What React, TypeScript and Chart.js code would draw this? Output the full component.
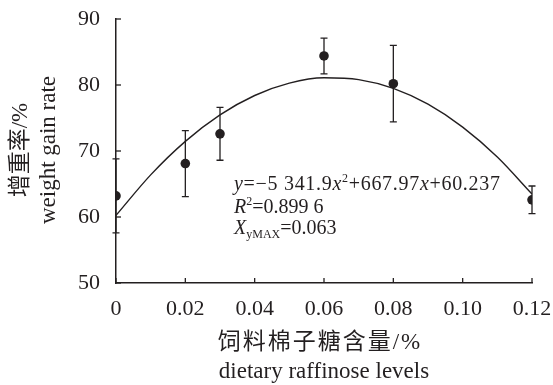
import React, { useEffect, useRef } from 'react';
import { Chart, registerables } from 'chart.js';

Chart.register(...registerables);

// Measured treatment data (mean ± error)
const xLevels = [0, 0.02, 0.03, 0.06, 0.08, 0.12];
const gainMeans = [63.2, 68.1, 72.6, 84.4, 80.2, 62.6];
const gainErrors = [5.6, 5.0, 4.0, 2.7, 5.8, 2.1];

// Fitted trend curve
const trendX = [0, 0.01, 0.02, 0.03, 0.04, 0.05, 0.06, 0.07, 0.08, 0.09, 0.1, 0.11, 0.12];
const trendY = [60.24, 66.38, 71.46, 75.47, 78.41, 80.28, 81.09, 80.82, 79.49, 77.09, 73.62, 69.08, 63.47];

const xTickLabels = ['0', '0.02', '0.04', '0.06', '0.08', '0.10', '0.12'];
const yTickValues = [50, 60, 70, 80, 90];

const xTitleLines = ['饲料棉子糖含量/%', 'dietary raffinose levels'];
const yTitleLines = ['增重率/%', 'weight gain rate'];

type Run = { t: string; it?: boolean; sup?: boolean; sub?: boolean };
const equationLines: Run[][] = [
  [
    { t: 'y', it: true },
    { t: '=−5 341.9' },
    { t: 'x', it: true },
    { t: '2', sup: true },
    { t: '+667.97' },
    { t: 'x', it: true },
    { t: '+60.237' },
  ],
  [{ t: 'R', it: true }, { t: '2', sup: true }, { t: '=0.899 6' }],
  [{ t: 'X', it: true }, { t: 'yMAX', sub: true }, { t: '=0.063' }],
];

const INK = '#231f20';
const SERIF = "'Liberation Serif', 'Times New Roman', serif";
const TITLE_FONT = "'Liberation Serif', 'Noto Sans CJK SC', serif";

const decorPlugin = {
  id: 'decor',
  beforeDatasetsDraw(chart: any) {
    const ctx = chart.ctx;
    const xs = chart.scales.x;
    const ys = chart.scales.y;
    ctx.save();
    ctx.strokeStyle = INK;
    ctx.lineWidth = 1.3;
    xLevels.forEach((xv, i) => {
      const px = xs.getPixelForValue(xv);
      const top = ys.getPixelForValue(gainMeans[i] + gainErrors[i]);
      const bot = ys.getPixelForValue(gainMeans[i] - gainErrors[i]);
      ctx.beginPath();
      ctx.moveTo(px, top);
      ctx.lineTo(px, bot);
      ctx.moveTo(px - 3.5, top);
      ctx.lineTo(px + 3.5, top);
      ctx.moveTo(px - 3.5, bot);
      ctx.lineTo(px + 3.5, bot);
      ctx.stroke();
    });
    ctx.restore();
  },
  afterDraw(chart: any) {
    const ctx = chart.ctx;
    const xs = chart.scales.x;
    const ys = chart.scales.y;
    const area = chart.chartArea;
    ctx.save();
    // inward ticks
    ctx.strokeStyle = INK;
    ctx.lineWidth = 1.3;
    ys.ticks.forEach((t: any) => {
      const py = ys.getPixelForValue(t.value);
      ctx.beginPath();
      ctx.moveTo(area.left, py);
      ctx.lineTo(area.left + 5, py);
      ctx.stroke();
    });
    xs.ticks.forEach((t: any) => {
      const px = xs.getPixelForValue(t.value);
      ctx.beginPath();
      ctx.moveTo(px, area.bottom);
      ctx.lineTo(px, area.bottom - 5);
      ctx.stroke();
    });

    ctx.fillStyle = INK;
    // x title
    ctx.textAlign = 'center';
    ctx.textBaseline = 'middle';
    ctx.font = `23px ${TITLE_FONT}`;
    (ctx as any).letterSpacing = '2px';
    ctx.fillText(xTitleLines[0], 320, 343);
    (ctx as any).letterSpacing = '0px';
    ctx.textBaseline = 'alphabetic';
    ctx.fillText(xTitleLines[1], 324, 378);

    // y title
    ctx.save();
    ctx.translate(21, 150);
    ctx.rotate(-Math.PI / 2);
    ctx.textBaseline = 'middle';
    ctx.fillText(yTitleLines[0], 0, 0);
    ctx.restore();
    ctx.save();
    ctx.translate(49, 150);
    ctx.rotate(-Math.PI / 2);
    ctx.textBaseline = 'middle';
    ctx.fillText(yTitleLines[1], 0, 0);
    ctx.restore();

    // equation block
    ctx.textAlign = 'left';
    ctx.textBaseline = 'alphabetic';
    const baselines = [190, 213, 234];
    const spacing = ['0.7px', '0px', '0px'];
    equationLines.forEach((runs, li) => {
      let x = 234;
      const base = baselines[li];
      (ctx as any).letterSpacing = spacing[li];
      runs.forEach((r) => {
        const size = r.sup || r.sub ? 12 : 20;
        ctx.font = `${r.it ? 'italic ' : ''}${size}px ${SERIF}`;
        const y = r.sup ? base - 8 : r.sub ? base + 4 : base;
        ctx.fillText(r.t, x, y);
        x += ctx.measureText(r.t).width;
      });
    });
    (ctx as any).letterSpacing = '0px';
    ctx.restore();
  },
};

export default function App() {
  const ref = useRef<HTMLCanvasElement | null>(null);
  useEffect(() => {
    document.body.style.margin = '0';
    const canvas = ref.current;
    if (!canvas) return;
    const chart = new Chart(canvas, {
      type: 'scatter',
      data: {
        datasets: [
          {
            type: 'line',
            data: trendX.map((x, i) => ({ x, y: trendY[i] })),
            borderColor: INK,
            borderWidth: 1.4,
            pointRadius: 0,
            fill: false,
            cubicInterpolationMode: 'monotone',
          } as any,
          {
            data: xLevels.map((x, i) => ({ x, y: gainMeans[i] })),
            backgroundColor: INK,
            borderColor: INK,
            borderWidth: 0,
            pointRadius: 4.8,
          },
        ],
      },
      options: {
        responsive: false,
        animation: false,
        layout: { padding: { top: 19, right: 21, left: 0, bottom: 0 } },
        plugins: { legend: { display: false }, tooltip: { enabled: false } },
        scales: {
          x: {
            type: 'linear',
            min: 0,
            max: 0.12,
            afterFit: (s: any) => {
              s.height = 102;
              s.paddingLeft = 0;
              s.paddingRight = 0;
            },
            afterBuildTicks: (s: any) => {
              s.ticks = xTickLabels.map((l) => ({ value: parseFloat(l) }));
            },
            ticks: {
              callback: (_v: any, i: number) => xTickLabels[i],
              color: INK,
              font: { family: SERIF, size: 22 },
              padding: 13,
              maxRotation: 0,
              autoSkip: false,
            },
            grid: { display: true, drawOnChartArea: false, drawTicks: false },
            border: { display: true, color: INK, width: 1.5 },
          },
          y: {
            type: 'linear',
            min: 50,
            max: 90,
            afterFit: (s: any) => {
              s.width = 116;
              s.paddingTop = 0;
              s.paddingBottom = 0;
            },
            afterBuildTicks: (s: any) => {
              s.ticks = yTickValues.map((v) => ({ value: v }));
            },
            ticks: {
              color: INK,
              font: { family: SERIF, size: 22 },
              padding: 16,
            },
            grid: { display: true, drawOnChartArea: false, drawTicks: false },
            border: { display: true, color: INK, width: 1.5 },
          },
        },
      },
      plugins: [decorPlugin],
    } as any);
    return () => chart.destroy();
  }, []);
  return <canvas ref={ref} width={553} height={385} style={{ display: 'block' }} />;
}
